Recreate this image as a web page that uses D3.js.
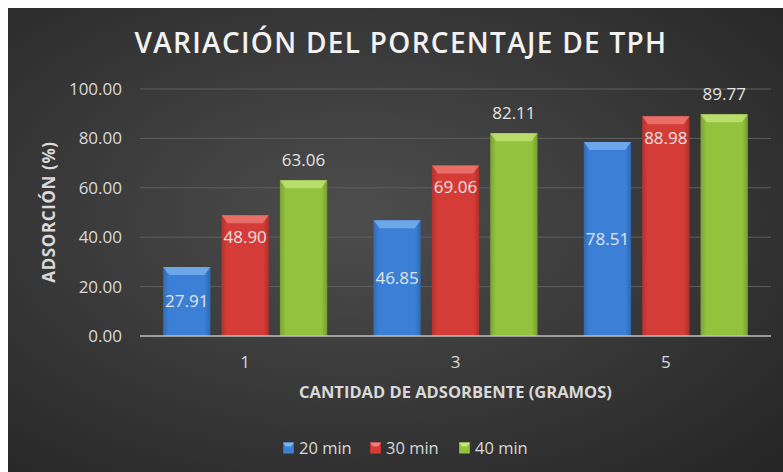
<!DOCTYPE html>
<html>
<head>
<meta charset="utf-8">
<script src="https://cdn.jsdelivr.net/npm/d3@7"></script>
<style>
  body { margin: 0; background: #ffffff; }
  svg { display: block; }
</style>
</head>
<body>
<script>
// données
const categories = ["1", "3", "5"];
const series = ["20 min", "30 min", "40 min"];
const val20 = [27.91, 46.85, 78.51];
const val30 = [48.90, 69.06, 88.98];
const val40 = [63.06, 82.11, 89.77];
const yTicks = [0, 20, 40, 60, 80, 100];

const valeurs = [val20, val30, val40];
const couleurs = ["#3b80d6", "#d63c37", "#93c23c"];
const clairs = ["#7db4f0", "#f07f7a", "#c4e67a"];
const position = ["center", "insideEnd", "outsideEnd"];

const W = 783, H = 472;
const margin = { top: 89, right: 12, bottom: 136, left: 140 };

let svg = d3.select("body").append("svg")
    .attr("width", W)
    .attr("height", H)
    .style("font-family", "'Open Sans', sans-serif");

let defs = svg.append("defs");

// fond gris en dégradé
let bg = defs.append("radialGradient")
    .attr("id", "fond")
    .attr("cx", "45%").attr("cy", "45%").attr("r", "75%");
bg.append("stop").attr("offset", "0%").attr("stop-color", "#4d4d4d");
bg.append("stop").attr("offset", "100%").attr("stop-color", "#262626");

svg.append("rect")
    .attr("x", 8).attr("y", 8)
    .attr("width", W - 8).attr("height", H - 8)
    .attr("fill", "url(#fond)");

// dégradés des barres
couleurs.forEach((c, i) => {
    let g = defs.append("linearGradient")
        .attr("id", "barre" + i)
        .attr("x1", "0%").attr("x2", "100%").attr("y1", "0%").attr("y2", "0%");
    g.append("stop").attr("offset", "0%").attr("stop-color", d3.color(c).darker(0.5));
    g.append("stop").attr("offset", "12%").attr("stop-color", c);
    g.append("stop").attr("offset", "88%").attr("stop-color", c);
    g.append("stop").attr("offset", "100%").attr("stop-color", d3.color(c).darker(0.6));
});

let x0 = d3.scaleBand()
    .domain(categories)
    .range([margin.left, W - margin.right])
    .paddingInner(0.22)
    .paddingOuter(0.11);

let x1 = d3.scaleBand()
    .domain(series)
    .range([0, x0.bandwidth()])
    .paddingInner(0.19);

let y = d3.scaleLinear()
    .domain([0, 100])
    .range([H - margin.bottom, margin.top]);

// lignes de grille
svg.append("g")
    .selectAll("line")
    .data(yTicks.filter(d => d > 0))
    .enter().append("line")
    .attr("x1", margin.left)
    .attr("x2", W - margin.right)
    .attr("y1", d => y(d))
    .attr("y2", d => y(d))
    .attr("stroke", "#5e5e5e")
    .attr("stroke-width", 1);

// étiquettes axe Y
svg.append("g")
    .selectAll("text")
    .data(yTicks)
    .enter().append("text")
    .attr("x", 122)
    .attr("y", d => y(d))
    .attr("dy", "0.35em")
    .attr("text-anchor", "end")
    .attr("fill", "#d9d9d9")
    .style("font-size", "17px")
    .text(d => d3.format(".2f")(d));

// barres
series.forEach((s, si) => {
    let grp = svg.append("g");
    categories.forEach((c, ci) => {
        let v = valeurs[si][ci];
        let bx = x0(c) + x1(s);
        let bw = x1.bandwidth();
        let top = y(v), bottom = y(0);
        grp.append("rect")
            .attr("x", bx).attr("y", top)
            .attr("width", bw).attr("height", bottom - top)
            .attr("fill", "url(#barre" + si + ")");
        // biseau du haut
        grp.append("path")
            .attr("d", `M${bx},${top} L${bx + bw},${top} L${bx + bw - 6},${top + 8} L${bx + 6},${top + 8} Z`)
            .attr("fill", clairs[si])
            .attr("opacity", 0.75);

        let ly;
        if (position[si] === "center") ly = (top + bottom) / 2;
        else if (position[si] === "insideEnd") ly = top + 22;
        else ly = top - 20;
        grp.append("text")
            .attr("x", bx + bw / 2)
            .attr("y", ly)
            .attr("dy", "0.35em")
            .attr("text-anchor", "middle")
            .attr("fill", "#e3e3e3")
            .style("font-size", "17px")
            .text(d3.format(".2f")(v));
    });
});

// axe X
svg.append("line")
    .attr("x1", margin.left)
    .attr("x2", W - margin.right)
    .attr("y1", y(0))
    .attr("y2", y(0))
    .attr("stroke", "#bfbfbf")
    .attr("stroke-width", 1.5);

svg.append("g")
    .selectAll("text")
    .data(categories)
    .enter().append("text")
    .attr("x", d => x0(d) + x0.bandwidth() / 2)
    .attr("y", 362)
    .attr("dy", "0.35em")
    .attr("text-anchor", "middle")
    .attr("fill", "#d9d9d9")
    .style("font-size", "17px")
    .text(d => d);

// titres
svg.append("text")
    .attr("x", 401)
    .attr("y", 53)
    .attr("text-anchor", "middle")
    .attr("fill", "#f2f2f2")
    .style("font-size", "28px")
    .style("font-weight", "600")
    .style("letter-spacing", "1.3px")
    .text("VARIACIÓN DEL PORCENTAJE DE TPH");

svg.append("text")
    .attr("x", (margin.left + W - margin.right) / 2)
    .attr("y", 392)
    .attr("dy", "0.35em")
    .attr("text-anchor", "middle")
    .attr("fill", "#d9d9d9")
    .style("font-size", "16.5px")
    .style("font-weight", "bold")
    .text("CANTIDAD DE ADSORBENTE (GRAMOS)");

svg.append("text")
    .attr("transform", "translate(49," + 212 + ") rotate(-90)")
    .attr("dy", "0.35em")
    .attr("text-anchor", "middle")
    .attr("fill", "#d9d9d9")
    .style("font-size", "17px")
    .style("font-weight", "bold")
    .style("letter-spacing", "0.6px")
    .text("ADSORCIÓN (%)");

// légende
let legendX = [283, 370, 459];
let legend = svg.selectAll(".legend")
    .data(series)
    .enter().append("g")
    .attr("class", "legend")
    .attr("transform", (d, i) => "translate(" + legendX[i] + ",448)");

legend.append("rect")
    .attr("x", 0).attr("y", -5.5)
    .attr("width", 11).attr("height", 11)
    .attr("fill", (d, i) => "url(#barre" + i + ")");

legend.append("path")
    .attr("d", "M0,-5.5 L11,-5.5 L8,-1.5 L3,-1.5 Z")
    .attr("fill", (d, i) => clairs[i]);

legend.append("text")
    .attr("x", 16)
    .attr("dy", "0.35em")
    .attr("fill", "#d9d9d9")
    .style("font-size", "16.5px")
    .text(d => d);
</script>
</body>
</html>
